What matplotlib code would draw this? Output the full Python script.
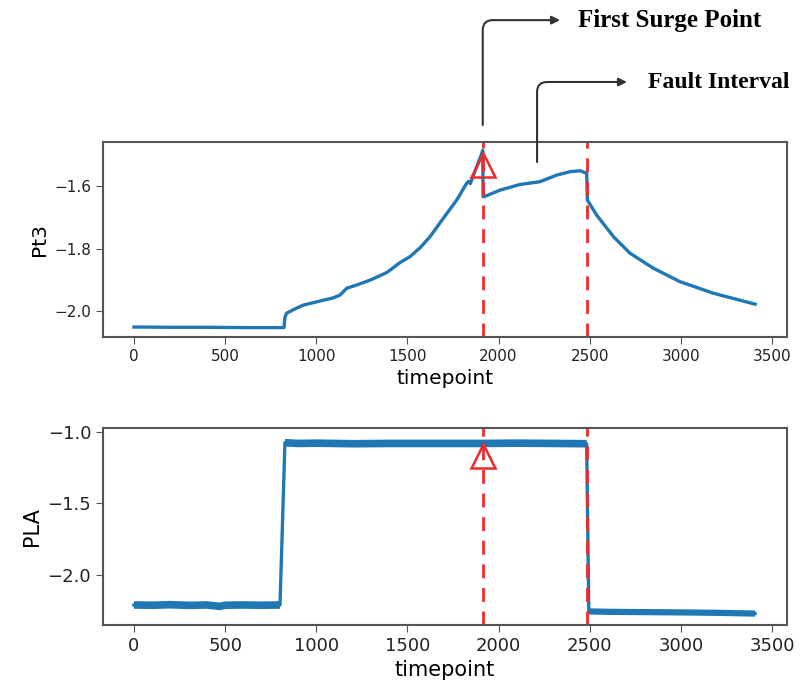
import numpy as np
import matplotlib
matplotlib.use("Agg")
import matplotlib.pyplot as plt

# Pt3 readings (timepoint, value)
pt3_t = [0, 200, 400, 600, 823, 828, 837, 880, 929, 1020, 1092, 1130, 1167, 1230, 1295,
         1386, 1459, 1514, 1570, 1624, 1697, 1770, 1825, 1835, 1845, 1880, 1907, 1913,
         1915, 1920, 2008, 2117, 2227, 2319, 2392, 2447, 2483, 2487, 2538, 2630, 2721,
         2849, 2995, 3178, 3407]
pt3_v = [-2.051, -2.052, -2.052, -2.053, -2.053, -2.02, -2.007, -1.994, -1.981, -1.968,
         -1.958, -1.949, -1.927, -1.915, -1.901, -1.877, -1.845, -1.826, -1.797, -1.762,
         -1.703, -1.645, -1.591, -1.585, -1.592, -1.538, -1.497, -1.486, -1.634, -1.634,
         -1.613, -1.595, -1.586, -1.565, -1.554, -1.551, -1.559, -1.645, -1.693, -1.762,
         -1.815, -1.863, -1.906, -1.943, -1.978]

# PLA readings (timepoint, value)
pla_t = [0, 100, 200, 300, 400, 470, 500, 600, 700, 801, 828, 900, 1000, 1200, 1400,
         1600, 1800, 1913, 2100, 2300, 2483, 2495, 2600, 2800, 3000, 3200, 3407]
pla_v = [-2.21, -2.212, -2.208, -2.213, -2.21, -2.22, -2.212, -2.21, -2.212, -2.21,
         -1.075, -1.08, -1.078, -1.082, -1.08, -1.08, -1.08, -1.08, -1.078, -1.08,
         -1.082, -2.255, -2.258, -2.26, -2.262, -2.265, -2.27]

surge_t = 1913
fault_end_t = 2485
pt3_marker = -1.533
pla_marker = -1.165

blue = "#1f77b4"
spine_c = "#555555"

fig = plt.figure(figsize=(8.02, 6.88), dpi=100)
ax1 = fig.add_axes([0.1284, 0.5102, 0.8529, 0.2834])
ax2 = fig.add_axes([0.1284, 0.0916, 0.8529, 0.2863])

ax1.plot(pt3_t, pt3_v, color=blue, lw=2.4)
ax1.axvline(surge_t, color="#ee2a2a", lw=2, dashes=(5, 3.5))
ax1.axvline(fault_end_t, color="#ee2a2a", lw=2, dashes=(5, 3.5))
ax1.plot([surge_t], [pt3_marker], marker="^", ms=17, mfc="none", mec="#ee2a2a", mew=1.8)
ax1.set_xlim(-170, 3582)
ax1.set_ylim(-2.083, -1.459)
ax1.set_yticks([-2.0, -1.8, -1.6])
ax1.set_xticks(range(0, 3501, 500))
ax1.set_xlabel("timepoint", fontsize=14.5)
ax1.set_ylabel("Pt3", fontsize=14.5)
ax1.tick_params(labelsize=11, length=5, color=spine_c, labelcolor="#222222")

ax2.plot(pla_t, pla_v, color=blue, lw=2.4)
ax2.plot(pla_t[:10], pla_v[:10], color=blue, lw=5.5, solid_capstyle="butt")
ax2.plot(pla_t[10:21], pla_v[10:21], color=blue, lw=5.5, solid_capstyle="butt")
ax2.plot(pla_t[21:], pla_v[21:], color=blue, lw=4.5, solid_capstyle="butt")
ax2.axvline(surge_t, color="#ee2a2a", lw=2, dashes=(5, 3.5))
ax2.axvline(fault_end_t, color="#ee2a2a", lw=2, dashes=(5, 3.5))
ax2.plot([surge_t], [pla_marker], marker="^", ms=17, mfc="none", mec="#ee2a2a", mew=1.8)
ax2.set_xlim(-170, 3582)
ax2.set_ylim(-2.35, -0.972)
ax2.set_yticks([-2.0, -1.5, -1.0])
ax2.set_xticks(range(0, 3501, 500))
ax2.set_xlabel("timepoint", fontsize=15)
ax2.set_ylabel("PLA", fontsize=15)
ax2.tick_params(labelsize=13, length=5, color=spine_c, labelcolor="#222222")

for ax in (ax1, ax2):
    for s in ax.spines.values():
        s.set_color(spine_c)
        s.set_linewidth(1.5)

# callouts
arrow_kw = dict(arrowstyle="-|>", color="#333333", lw=1.5, mutation_scale=12,
                shrinkA=0, shrinkB=0)
ax1.annotate("", xy=(2337, -1.069), xytext=(surge_t, -1.405), annotation_clip=False,
             arrowprops=dict(connectionstyle="angle,angleA=90,angleB=0,rad=10", **arrow_kw))
ax1.annotate("", xy=(2704, -1.267), xytext=(2211, -1.523), annotation_clip=False,
             arrowprops=dict(connectionstyle="angle,angleA=90,angleB=0,rad=10", **arrow_kw))
ax1.text(2436, -1.069, "First Surge Point", fontsize=18, fontweight="bold",
         family="Liberation Serif", va="center", ha="left", clip_on=False)
ax1.text(2820, -1.267, "Fault Interval", fontsize=17, fontweight="bold",
         family="Liberation Serif", va="center", ha="left", clip_on=False)

fig.savefig("out.png", dpi=100)
